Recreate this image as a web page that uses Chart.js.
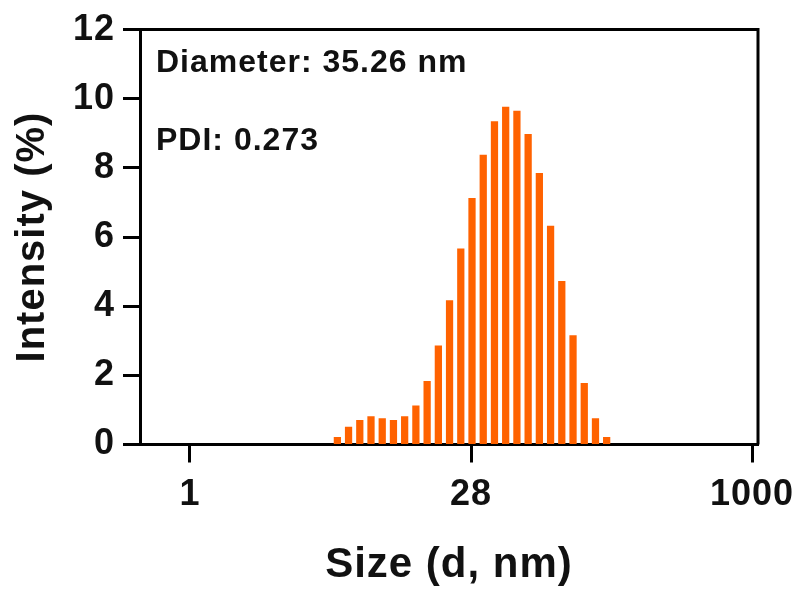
<!DOCTYPE html>
<html>
<head>
<meta charset="utf-8">
<title>Size distribution</title>
<script src="https://cdn.jsdelivr.net/npm/chart.js@4.4.1/dist/chart.umd.min.js"></script>
<style>
  html, body { margin: 0; padding: 0; background: #fff; }
  #wrap { width: 798px; height: 592px; position: relative; }
</style>
</head>
<body>
<div id="wrap"><canvas id="dls"></canvas></div>
<script>
// size bins (nm) and intensity (%) of each bin
const sizes = [6.12, 7.02, 8.06, 9.25, 10.62, 12.19, 13.99, 16.06, 18.44, 21.17,
               24.29, 27.89, 32.01, 36.75, 42.19, 48.42, 55.59, 63.81, 73.25, 84.08,
               96.50, 110.8, 127.2, 146.0, 167.5];
const intensity = [0.22, 0.51, 0.71, 0.82, 0.76, 0.71, 0.82, 1.13, 1.84, 2.86,
                   4.17, 5.67, 7.13, 8.38, 9.35, 9.77, 9.65, 8.98, 7.85, 6.33,
                   4.73, 3.16, 1.78, 0.76, 0.22];

const xTickValues = [1, 31.62, 1000];
const xTickLabels = ['1', '28', '1000'];
const yTicks = [0, 2, 4, 6, 8, 10, 12];

const notes = ['Diameter: 35.26 nm', 'PDI: 0.273'];

const FONT = '"Liberation Sans", Arial, Helvetica, sans-serif';

// slight letter spacing on all text
const spacing = {
  id: 'spacing',
  beforeDraw(chart) {
    chart.ctx.letterSpacing = '1px';
  }
};

// closes the box on the top and right, writes the two result lines
const boxAndNotes = {
  id: 'boxAndNotes',
  afterDraw(chart) {
    const c = chart.ctx;
    const a = chart.chartArea;
    c.save();
    c.strokeStyle = '#000';
    c.lineWidth = 3;
    c.beginPath();
    c.moveTo(a.left, a.top);
    c.lineTo(a.right, a.top);
    c.lineTo(a.right, a.bottom);
    c.stroke();

    c.fillStyle = '#111';
    c.font = 'bold 32px ' + FONT;
    c.textAlign = 'left';
    c.textBaseline = 'alphabetic';
    c.fillText(notes[0], a.left + 16, 72);
    c.fillText(notes[1], a.left + 16, 150);
    c.restore();
  }
};

const ctx = document.getElementById('dls').getContext('2d');

new Chart(ctx, {
  type: 'bar',
  data: {
    datasets: [{
      data: sizes.map((s, i) => ({ x: s, y: intensity[i] })),
      backgroundColor: 'rgb(255, 98, 0)',
      borderWidth: 0,
      categoryPercentage: 1,
      barPercentage: 0.65
    }]
  },
  options: {
    responsive: true,
    maintainAspectRatio: false,
    animation: false,
    layout: { padding: { top: 29.5, right: 40, left: 0, bottom: 0 } },
    plugins: {
      legend: { display: false },
      tooltip: { enabled: false }
    },
    scales: {
      x: {
        type: 'logarithmic',
        bounds: 'data',
        offset: false,
        min: 0.541,
        max: 1076,
        afterBuildTicks: (scale) => {
          scale.ticks = xTickValues.map(v => ({ value: v }));
        },
        afterFit: (scale) => {
          scale.height = 147.5;
          scale.paddingLeft = 0;
          scale.paddingRight = 0;
        },
        ticks: {
          color: '#111',
          padding: 11,
          maxRotation: 0,
          autoSkip: false,
          font: { family: FONT, size: 36, weight: 'bold' },
          callback: (v, i) => xTickLabels[i]
        },
        grid: {
          offset: false,
          drawOnChartArea: false,
          drawTicks: true,
          tickLength: 18,
          tickWidth: 3,
          tickColor: '#000'
        },
        border: { display: true, color: '#000', width: 3 },
        title: {
          display: true,
          text: 'Size (d, nm)',
          color: '#111',
          font: { family: FONT, size: 42, weight: 'bold' },
          padding: { top: 0, bottom: 1 }
        }
      },
      y: {
        min: 0,
        max: 12,
        afterBuildTicks: (scale) => {
          scale.ticks = yTicks.map(v => ({ value: v }));
        },
        afterFit: (scale) => { scale.width = 140; },
        ticks: {
          color: '#111',
          padding: 8,
          font: { family: FONT, size: 36, weight: 'bold' }
        },
        grid: {
          drawOnChartArea: false,
          drawTicks: true,
          tickLength: 17,
          tickWidth: 3,
          tickColor: '#000'
        },
        border: { display: true, color: '#000', width: 3 },
        title: {
          display: true,
          text: 'Intensity (%)',
          color: '#111',
          font: { family: FONT, size: 40, weight: 'bold' },
          padding: { top: 9, bottom: 0 }
        }
      }
    }
  },
  plugins: [spacing, boxAndNotes]
});
</script>
</body>
</html>
